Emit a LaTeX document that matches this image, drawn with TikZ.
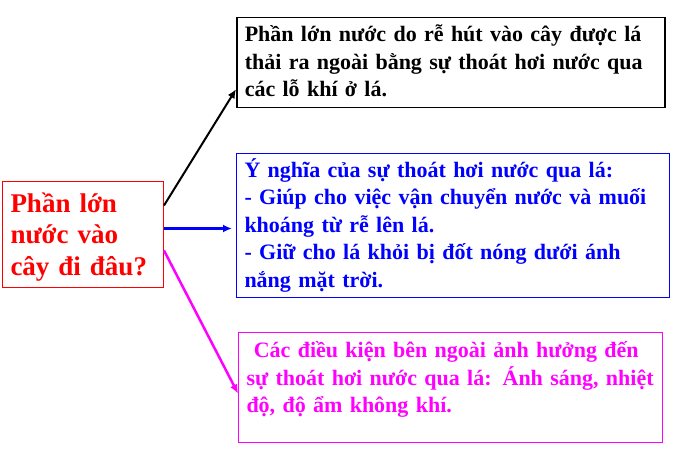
\documentclass[tikz,border=0pt]{standalone}
\usepackage{xcolor}
\usepackage{fontspec}
\setmainfont{Liberation Serif}
\usetikzlibrary{shapes, arrows, arrows.meta, positioning}
\definecolor{tim}{RGB}{255,0,255}

\begin{document}
\begin{tikzpicture}[x=1pt,y=-1pt]
        \useasboundingbox (0,0) rectangle (675,449);
        \begin{scope}[every node/.style={draw,line width=1pt,anchor=north west,align=left,inner xsep=8pt,inner ysep=4pt,font=\bfseries\fontsize{22}{27.5}\selectfont}]
          \node[draw=red,text=red,text width=145pt,text height=27pt,text depth=71pt,font=\bfseries\fontsize{27}{31.5}\selectfont] (q) at (2,181) {Phần lớn\\nước vào\\cây đi đâu?};
          \node[line width=1.5pt,text width=412pt,text height=20pt,text depth=62pt] (t) at (236,17) {Phần lớn nước do rễ hút vào cây được lá\\thải ra ngoài bằng sự thoát hơi nước qua\\các lỗ khí ở lá.};
          \node[draw=blue,text=blue,text width=417pt,text height=20pt,text depth=116pt] (y) at (236,153) {Ý nghĩa của sự thoát hơi nước qua lá:\\- Giúp cho việc vận chuyển nước và muối\\khoáng từ rễ lên lá.\\- Giữ cho lá khỏi bị đốt nóng dưới ánh\\nắng mặt trời.};
          \node[draw=tim,text=tim,text width=408pt,text height=21pt,text depth=81pt] (k) at (238,332) {\ Các điều kiện bên ngoài ảnh hưởng đến\\sự thoát hơi nước qua lá: Ánh sáng, nhiệt\\độ, độ ẩm không khí.};
        \end{scope}
        \begin{scope}[every edge/.style={draw,-{Latex[length=9pt,width=8pt]},line width=2.5pt}]
          \path ([yshift=29pt]q.east) edge[black,line width=2pt] ([yshift=-26.5pt]t.west);
          \path ([yshift=6pt]q.east) edge[blue] ([yshift=-3pt,xshift=-4pt]y.west);
          \path ([yshift=-16pt]q.east) edge[tim] ([yshift=-6pt]k.west);
        \end{scope}
      \end{tikzpicture}
\end{document}
